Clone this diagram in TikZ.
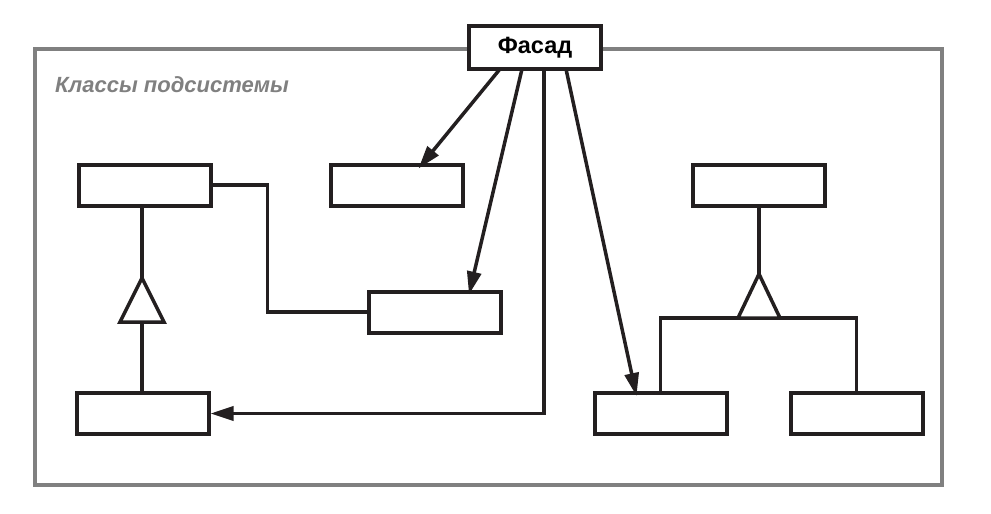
\documentclass[tikz,border=0pt]{standalone}
\usepackage{fontspec}
\setmainfont{Liberation Sans}
\usetikzlibrary{arrows.meta,calc}
\definecolor{framegray}{HTML}{808080}
\definecolor{ink}{HTML}{231F20}
\begin{document}
\begin{tikzpicture}[x=1pt,y=-1pt,
  cls/.style={draw=ink,line width=4pt,fill=white,minimum width=132pt,minimum height=41pt,inner sep=0pt,outer sep=0pt},
  conn/.style={draw=ink,line width=3.5pt},
  arr/.style={conn,-{Triangle[length=23pt,width=14pt]}},
  gen/.style={draw=ink,line width=3.5pt,fill=white,line join=miter}]
\useasboundingbox (0,0) rectangle (991,514);
% frame
\draw[framegray,line width=3.5pt] (35,49) rectangle (942,485);
\node[anchor=west,inner sep=0pt,text=framegray,font=\bfseries\itshape\fontsize{22}{24}\selectfont] (lbl) at (55,85) {Классы подсистемы};
% facade
\node[cls,minimum width=132pt,minimum height=43pt,font=\bfseries\fontsize{23.5}{26}\selectfont] (fac) at (535,47.5) {Фасад};
% classes
\node[cls] (A) at (144.5,185) {};
\node[cls] (B) at (396.5,185) {};
\node[cls] (C) at (435,312) {};
\node[cls] (D) at (142.5,413.5) {};
\node[cls] (E) at (759,185) {};
\node[cls] (F) at (660.5,413.5) {};
\node[cls] (G) at (856.5,413.5) {};
% left generalization
\coordinate (t1) at (142,278);
\coordinate (t1b) at (142,322);
\draw[conn] (A.south -| t1) -- (t1);
\draw[conn] (t1b) -- (D.north -| t1b);
\draw[gen] (t1) -- ++(-22,44) -- ++(44,0) -- cycle;
% association A - C
\draw[conn] (A.east) -- ++(57,0) |- (C.west);
% right generalization
\coordinate (t2) at (759,274);
\coordinate (bar) at (759,318);
\draw[conn] (E.south) -- (t2);
\draw[conn] (F.north) -- (F.north |- bar) -- (G.north |- bar) -- (G.north);
\draw[gen] (t2) -- ++(-21,44) -- ++(42,0) -- cycle;
% facade arrows
\draw[arr] ([xshift=-35pt]fac.south) -- ([xshift=22pt,yshift=-4pt]B.north);
\draw[arr] ([xshift=-13pt]fac.south) -- ([xshift=34pt,yshift=-3pt]C.north);
\draw[arr] ([xshift=9pt]fac.south) |- ([xshift=2pt]D.east);
\draw[arr] ([xshift=31pt]fac.south) -- ([xshift=-24pt,yshift=-3pt]F.north);
\end{tikzpicture}
\end{document}
